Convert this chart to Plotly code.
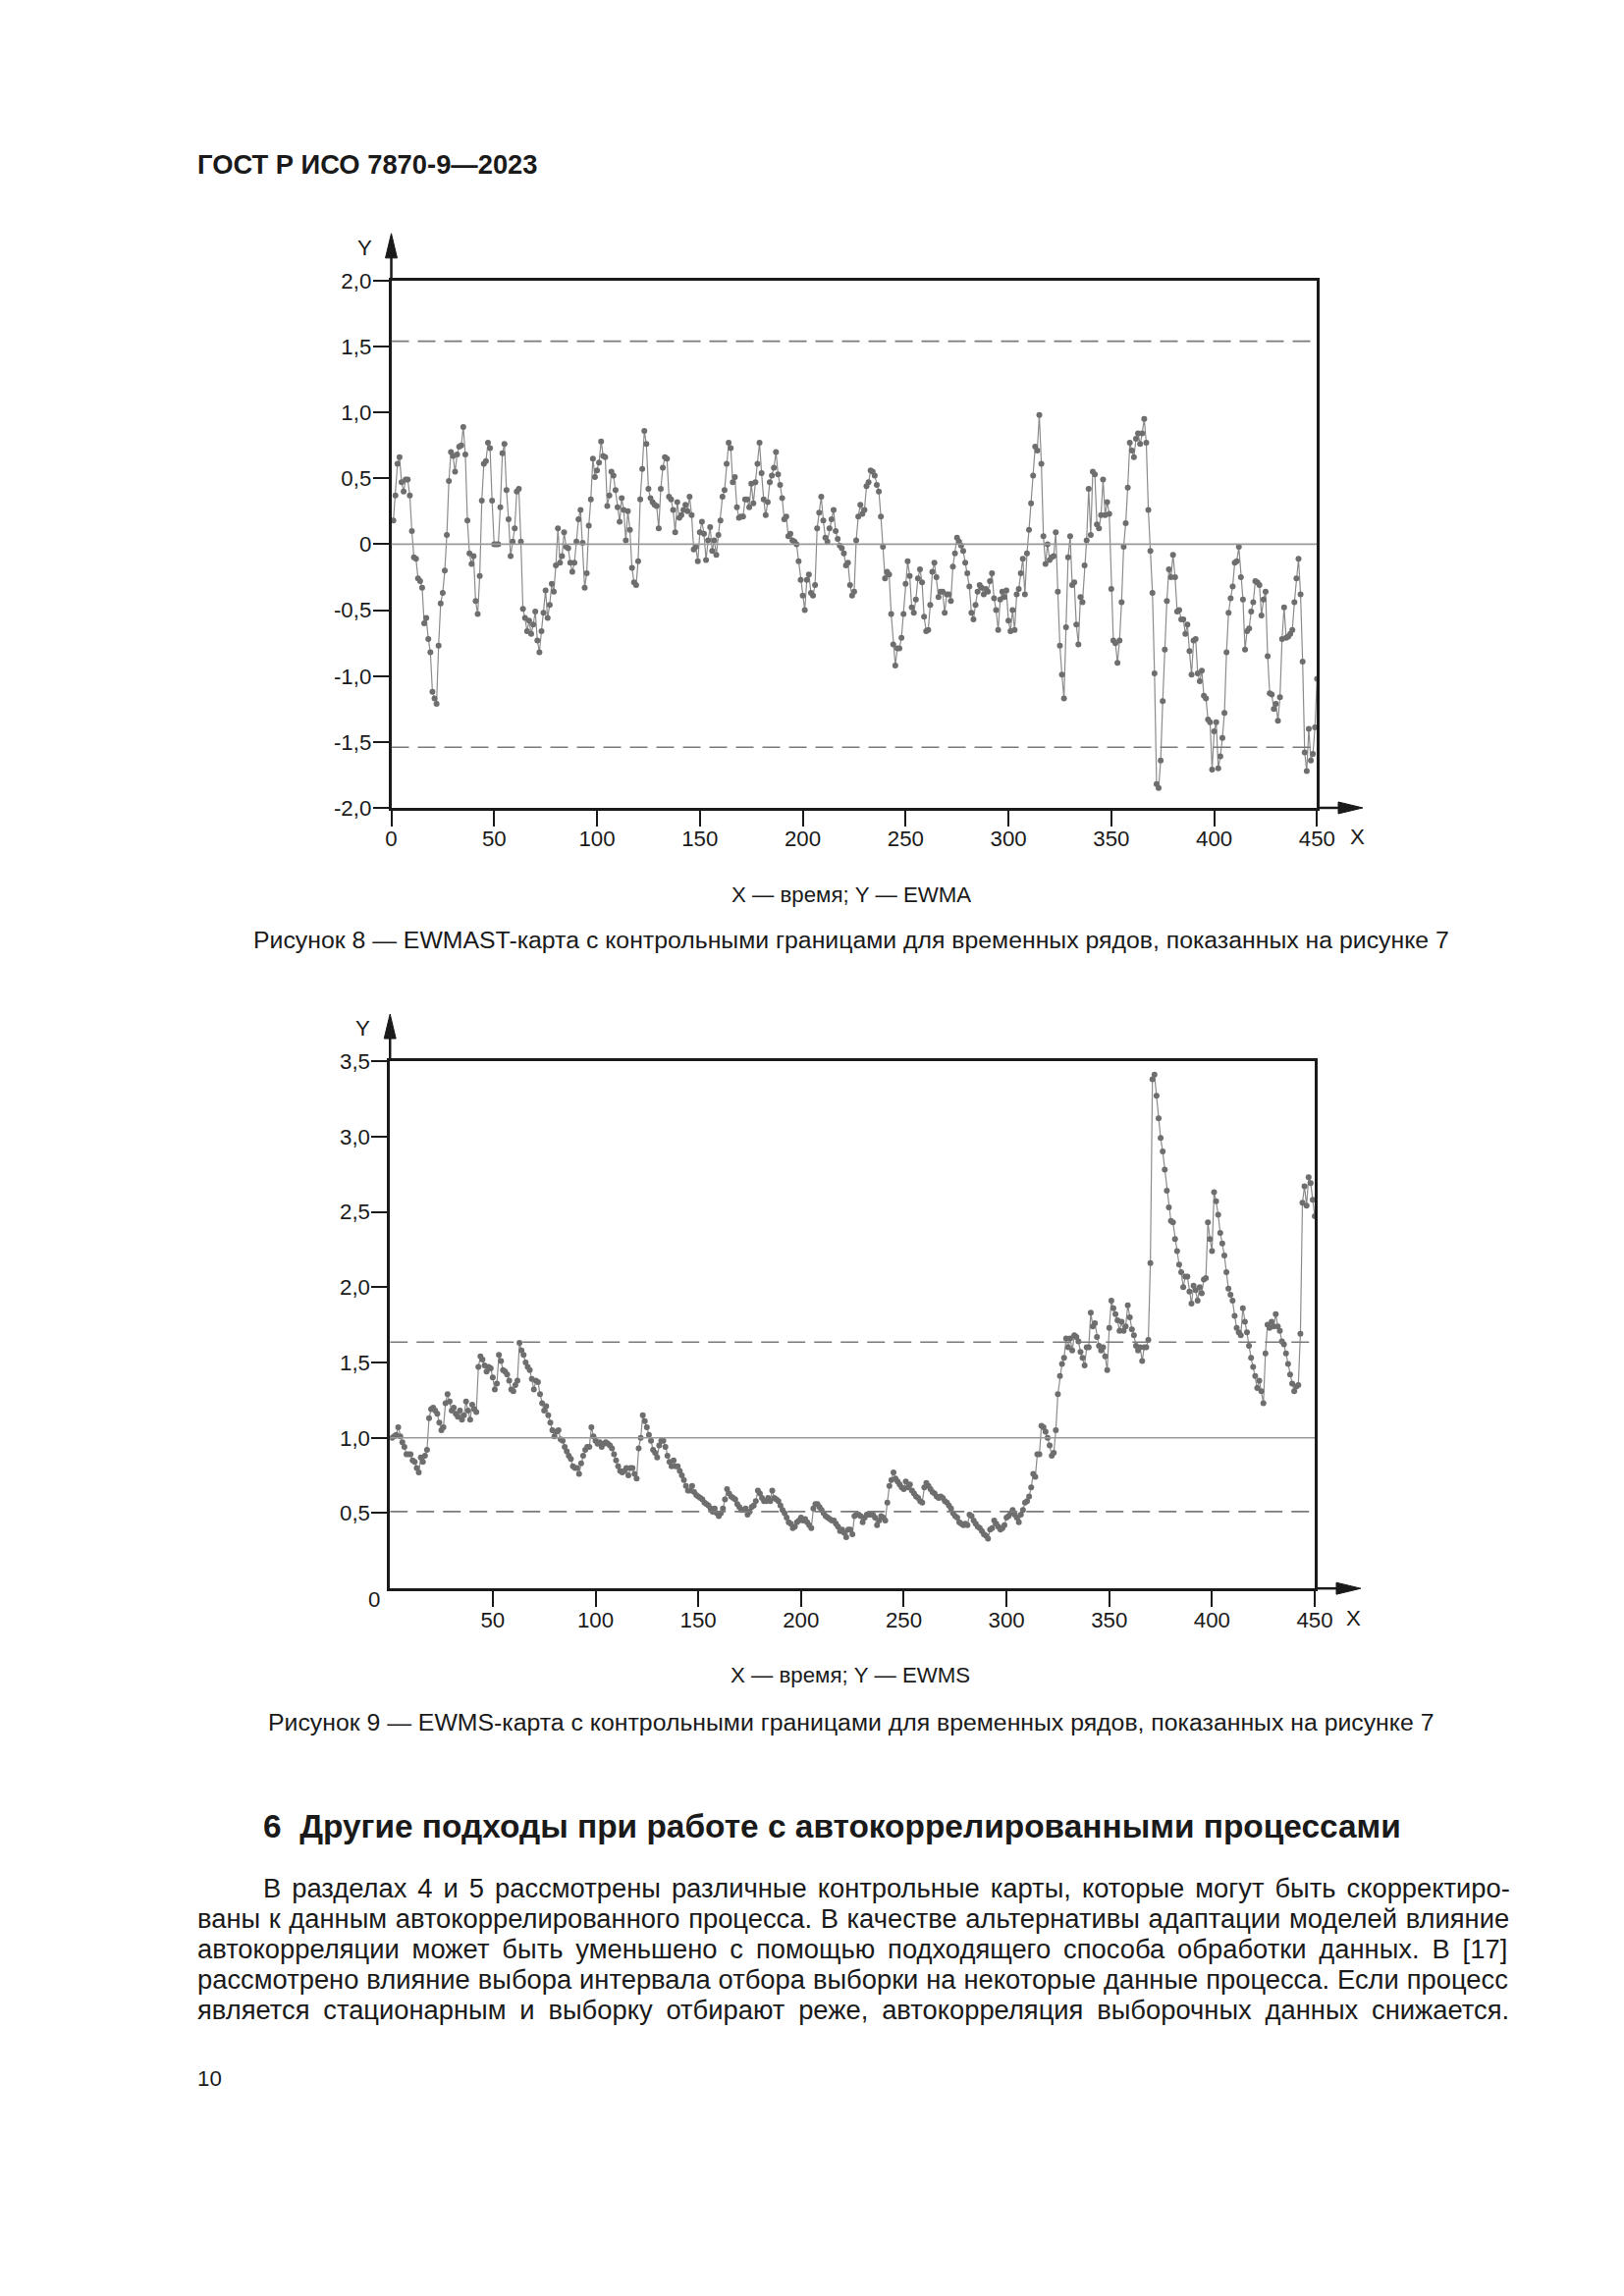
import plotly.graph_objects as go

PAGE_W, PAGE_H = 1654, 2339
BODY_MARGIN = 8  # поле <body> по умолчанию в браузере
FIG_W, FIG_H = PAGE_W - 2 * BODY_MARGIN, PAGE_H - 2 * BODY_MARGIN
# поправка на масштаб и сдвиг снимка страницы (подобрано по прошлым снимкам)
SNAP_SX, SNAP_SY = 0.987, 0.989
SNAP_DX, SNAP_DY = 5.0, 11.3
FONT = "Liberation Sans, Arial, sans-serif"
INK = "#1a1a1a"

HEADER = "ГОСТ Р ИСО 7870-9—2023"

# --- Рисунок 8: EWMA ---
EWMA = [
    0.18, 0.37, 0.61, 0.66, 0.47, 0.40, 0.49, 0.49, 0.37, 0.10,
    -0.10, -0.11, -0.26, -0.28, -0.33, -0.60, -0.56, -0.72, -0.82, -1.12,
    -1.17, -1.21, -0.77, -0.45, -0.37, -0.20, 0.07, 0.48, 0.70, 0.67,
    0.55, 0.68, 0.74, 0.75, 0.89, 0.68, 0.18, -0.07, -0.15, -0.09,
    -0.43, -0.53, -0.24, 0.33, 0.61, 0.63, 0.77, 0.73, 0.33, 0.00,
    0.00, 0.00, 0.28, 0.69, 0.76, 0.41, 0.19, -0.09, 0.02, 0.12,
    0.40, 0.42, 0.02, -0.49, -0.56, -0.66, -0.58, -0.68, -0.61, -0.51,
    -0.73, -0.82, -0.66, -0.52, -0.35, -0.56, -0.46, -0.30, -0.36, -0.16,
    0.12, -0.14, -0.09, 0.09, -0.02, -0.03, -0.14, -0.21, -0.14, 0.02,
    0.19, 0.26, 0.01, -0.33, -0.22, 0.14, 0.34, 0.65, 0.51, 0.56,
    0.62, 0.78, 0.67, 0.66, 0.29, 0.37, 0.55, 0.52, 0.41, 0.28,
    0.17, 0.35, 0.26, 0.03, 0.25, 0.11, -0.18, -0.29, -0.31, -0.13,
    0.34, 0.57, 0.86, 0.76, 0.42, 0.35, 0.32, 0.30, 0.29, 0.12,
    0.42, 0.58, 0.66, 0.65, 0.36, 0.34, 0.26, 0.09, 0.32, 0.20,
    0.22, 0.26, 0.30, 0.25, 0.36, 0.22, -0.04, -0.02, -0.13, 0.09,
    0.17, 0.08, -0.12, 0.03, 0.13, -0.05, 0.03, -0.08, 0.07, 0.18,
    0.36, 0.41, 0.61, 0.77, 0.73, 0.47, 0.51, 0.28, 0.20, 0.21,
    0.21, 0.34, 0.34, 0.28, 0.46, 0.31, 0.47, 0.61, 0.77, 0.54,
    0.34, 0.22, 0.32, 0.47, 0.52, 0.58, 0.70, 0.53, 0.45, 0.35,
    0.19, 0.21, 0.06, 0.08, 0.03, 0.02, 0.00, -0.13, -0.27, -0.39,
    -0.50, -0.27, -0.23, -0.37, -0.39, -0.31, 0.12, 0.24, 0.36, 0.18,
    0.05, 0.02, 0.12, 0.19, 0.26, 0.10, 0.04, -0.01, -0.03, -0.07,
    -0.16, -0.14, -0.31, -0.39, -0.36, 0.03, 0.21, 0.30, 0.23, 0.26,
    0.44, 0.47, 0.56, 0.55, 0.52, 0.45, 0.40, 0.21, -0.02, -0.26,
    -0.21, -0.23, -0.53, -0.76, -0.92, -0.79, -0.79, -0.71, -0.53, -0.30,
    -0.13, -0.24, -0.48, -0.52, -0.42, -0.26, -0.19, -0.29, -0.55, -0.66,
    -0.65, -0.46, -0.21, -0.14, -0.25, -0.40, -0.36, -0.36, -0.52, -0.38,
    -0.38, -0.43, -0.17, -0.07, 0.05, 0.02, -0.01, -0.05, -0.14, -0.22,
    -0.32, -0.52, -0.57, -0.46, -0.36, -0.31, -0.33, -0.38, -0.34, -0.36,
    -0.28, -0.22, -0.41, -0.50, -0.65, -0.42, -0.36, -0.40, -0.35, -0.58,
    -0.66, -0.50, -0.65, -0.38, -0.34, -0.22, -0.11, -0.38, -0.07, 0.11,
    0.31, 0.52, 0.74, 0.71, 0.98, 0.61, 0.06, -0.15, 0.00, -0.12,
    -0.10, -0.09, 0.09, -0.36, -0.77, -0.99, -1.17, -0.63, -0.10, 0.06,
    -0.31, -0.29, -0.61, -0.76, -0.40, -0.44, -0.16, 0.03, 0.42, 0.07,
    0.55, 0.53, 0.15, 0.12, 0.22, 0.49, 0.22, 0.32, 0.23, -0.34,
    -0.73, -0.75, -0.90, -0.73, -0.44, -0.02, 0.16, 0.43, 0.77, 0.71,
    0.66, 0.80, 0.84, 0.76, 0.84, 0.95, 0.77, 0.26, -0.05, -0.37,
    -0.98, -1.82, -1.85, -1.64, -1.19, -0.80, -0.43, -0.19, -0.25, -0.08,
    -0.25, -0.51, -0.50, -0.57, -0.57, -0.68, -0.61, -0.81, -0.99, -0.73,
    -0.72, -0.98, -1.04, -0.96, -1.15, -1.17, -1.33, -1.35, -1.71, -1.42,
    -1.35, -1.70, -1.61, -1.47, -1.28, -0.82, -0.52, -0.41, -0.32, -0.14,
    -0.13, -0.02, -0.25, -0.42, -0.80, -0.66, -0.64, -0.51, -0.44, -0.28,
    -0.29, -0.31, -0.54, -0.42, -0.36, -0.85, -1.13, -1.14, -1.25, -1.21,
    -1.34, -1.16, -0.72, -0.48, -0.71, -0.70, -0.68, -0.65, -0.44, -0.26,
    -0.11, -0.38, -0.89, -1.58, -1.72, -1.40, -1.64, -1.59, -1.39, -1.02,
]
EWMA_CENTER = 0.0
EWMA_LIMITS = [-1.54, 1.54]
EWMA_YTICKS = [-2.0, -1.5, -1.0, -0.5, 0.0, 0.5, 1.0, 1.5, 2.0]
EWMA_YTEXT = ["-2,0", "-1,5", "-1,0", "-0,5", "0", "0,5", "1,0", "1,5", "2,0"]
EWMA_XTICKS = [0, 50, 100, 150, 200, 250, 300, 350, 400, 450]

# --- Рисунок 9: EWMS ---
EWMS = [
    1.00, 1.01, 1.02, 1.07, 1.01, 0.97, 0.94, 0.89, 0.89, 0.89,
    0.85, 0.84, 0.80, 0.77, 0.87, 0.84, 0.88, 0.92, 1.13, 1.19,
    1.20, 1.18, 1.16, 1.10, 1.05, 1.07, 1.23, 1.29, 1.24, 1.18,
    1.20, 1.16, 1.14, 1.18, 1.12, 1.15, 1.24, 1.18, 1.12, 1.22,
    1.19, 1.17, 1.47, 1.54, 1.52, 1.48, 1.44, 1.47, 1.46, 1.40,
    1.32, 1.36, 1.55, 1.51, 1.45, 1.44, 1.42, 1.38, 1.32, 1.31,
    1.35, 1.38, 1.63, 1.58, 1.55, 1.50, 1.47, 1.45, 1.39, 1.32,
    1.38, 1.37, 1.29, 1.23, 1.18, 1.21, 1.15, 1.10, 1.05, 1.01,
    1.04, 1.05, 0.99, 0.98, 0.94, 0.91, 0.88, 0.86, 0.81, 0.80,
    0.80, 0.76, 0.83, 0.88, 0.92, 0.94, 0.94, 1.07, 1.01, 0.98,
    0.96, 0.97, 0.94, 0.96, 0.97, 0.96, 0.95, 0.93, 0.89, 0.85,
    0.81, 0.78, 0.77, 0.78, 0.80, 0.75, 0.80, 0.80, 0.76, 0.73,
    0.93, 1.00, 1.15, 1.11, 1.07, 1.02, 0.98, 0.92, 0.90, 0.87,
    0.95, 0.98, 0.98, 0.94, 0.88, 0.84, 0.81, 0.85, 0.81, 0.81,
    0.78, 0.75, 0.72, 0.68, 0.65, 0.65, 0.68, 0.64, 0.62, 0.61,
    0.60, 0.59, 0.57, 0.56, 0.55, 0.53, 0.51, 0.53, 0.50, 0.48,
    0.50, 0.53, 0.59, 0.66, 0.63, 0.61, 0.60, 0.59, 0.56, 0.54,
    0.52, 0.52, 0.53, 0.49, 0.51, 0.54, 0.55, 0.58, 0.65, 0.63,
    0.60, 0.58, 0.58, 0.60, 0.58, 0.65, 0.60, 0.59, 0.58, 0.55,
    0.52, 0.50, 0.47, 0.44, 0.43, 0.40, 0.41, 0.44, 0.45, 0.47,
    0.45, 0.46, 0.44, 0.42, 0.40, 0.53, 0.56, 0.56, 0.54, 0.52,
    0.50, 0.48, 0.47, 0.46, 0.45, 0.45, 0.43, 0.41, 0.38, 0.39,
    0.37, 0.34, 0.39, 0.39, 0.36, 0.48, 0.49, 0.49, 0.48, 0.44,
    0.47, 0.49, 0.49, 0.49, 0.49, 0.47, 0.42, 0.45, 0.48, 0.47,
    0.45, 0.57, 0.68, 0.72, 0.77, 0.73, 0.71, 0.69, 0.67, 0.66,
    0.71, 0.67, 0.69, 0.65, 0.63, 0.61, 0.60, 0.58, 0.57, 0.67,
    0.70, 0.68, 0.66, 0.64, 0.63, 0.61, 0.60, 0.61, 0.60, 0.58,
    0.57, 0.55, 0.53, 0.50, 0.48, 0.47, 0.44, 0.43, 0.42, 0.43,
    0.42, 0.49, 0.48, 0.45, 0.43, 0.41, 0.40, 0.38, 0.36, 0.35,
    0.33, 0.39, 0.40, 0.45, 0.43, 0.41, 0.39, 0.40, 0.42, 0.47,
    0.48, 0.50, 0.52, 0.49, 0.47, 0.44, 0.49, 0.52, 0.57, 0.58,
    0.61, 0.67, 0.76, 0.74, 0.89, 0.89, 1.08, 1.07, 1.04, 1.00,
    0.95, 0.88, 0.90, 1.05, 1.29, 1.41, 1.49, 1.53, 1.66, 1.60,
    1.66, 1.58, 1.68, 1.67, 1.64, 1.57, 1.53, 1.48, 1.60, 1.60,
    1.83, 1.74, 1.76, 1.67, 1.61, 1.58, 1.60, 1.54, 1.45, 1.73,
    1.91, 1.86, 1.82, 1.78, 1.71, 1.77, 1.71, 1.74, 1.88, 1.80,
    1.72, 1.68, 1.61, 1.58, 1.60, 1.51, 1.60, 1.60, 1.65, 2.16,
    3.38, 3.41, 3.27, 3.12, 2.99, 2.90, 2.78, 2.64, 2.53, 2.44,
    2.43, 2.32, 2.24, 2.15, 2.10, 2.00, 2.07, 2.07, 1.97, 1.89,
    2.01, 1.98, 1.91, 2.00, 1.96, 2.05, 2.06, 2.43, 2.32, 2.24,
    2.63, 2.57, 2.48, 2.36, 2.29, 2.21, 2.10, 1.99, 1.95, 1.91,
    1.81, 1.73, 1.70, 1.68, 1.86, 1.77, 1.70, 1.61, 1.53, 1.47,
    1.41, 1.33, 1.38, 1.31, 1.23, 1.56, 1.75, 1.73, 1.77, 1.74,
    1.82, 1.74, 1.71, 1.64, 1.62, 1.56, 1.49, 1.42, 1.36, 1.31,
    1.34, 1.35, 1.69, 2.56, 2.67, 2.54, 2.73, 2.69, 2.58, 2.47,
]
EWMS_CENTER = 1.0
EWMS_LIMITS = [0.51, 1.635]
EWMS_YTICKS = [0.5, 1.0, 1.5, 2.0, 2.5, 3.0, 3.5]
EWMS_YTEXT = ["0,5", "1,0", "1,5", "2,0", "2,5", "3,0", "3,5"]
EWMS_XTICKS = [50, 100, 150, 200, 250, 300, 350, 400, 450]
EWMS_ORIGIN = "0"

AXES_NOTE_1 = "X — время; Y — EWMA"
CAPTION_1 = "Рисунок 8 — EWMAST-карта с контрольными границами для временных рядов, показанных на рисунке 7"
AXES_NOTE_2 = "X — время; Y — EWMS"
CAPTION_2 = "Рисунок 9 — EWMS-карта с контрольными границами для временных рядов, показанных на рисунке 7"
HEADING = "6\u00a0\u00a0Другие подходы при работе с автокоррелированными процессами"
PARAGRAPH = [
    "В разделах 4 и 5 рассмотрены различные контрольные карты, которые могут быть скорректиро-",
    "ваны к данным автокоррелированного процесса. В качестве альтернативы адаптации моделей влияние",
    "автокорреляции может быть уменьшено с помощью подходящего способа обработки данных. В [17]",
    "рассмотрено влияние выбора интервала отбора выборки на некоторые данные процесса. Если процесс",
    "является стационарным и выборку отбирают реже, автокорреляция выборочных данных снижается.",
]
PAGE_NO = "10"


def px(x):
    return ((x - SNAP_DX) / SNAP_SX - BODY_MARGIN) / FIG_W


def py(y):
    return 1 - ((y - SNAP_DY) / SNAP_SY - BODY_MARGIN) / FIG_H


def sz(v):
    return v / SNAP_SX


def text(fig, s, x, y, size, anchor="center", bold=False):
    fig.add_annotation(
        text=f"<b>{s}</b>" if bold else s,
        x=px(x), y=py(y), xref="paper", yref="paper",
        xanchor=anchor, yanchor="middle", showarrow=False,
        font=dict(family=FONT, size=sz(size), color=INK),
    )


def arrows(fig, left, right, top, bottom, tip_x, tip_y):
    # продолжения осей за рамку и наконечники стрелок
    fig.add_shape(type="line", xref="paper", yref="paper",
                  x0=px(left), x1=px(left), y0=py(top), y1=py(tip_y + 20),
                  line=dict(color=INK, width=2.5))
    fig.add_shape(type="line", xref="paper", yref="paper",
                  x0=px(right), x1=px(tip_x - 20), y0=py(bottom), y1=py(bottom),
                  line=dict(color=INK, width=2.5))
    up = (f"M {px(left)} {py(tip_y)} L {px(left - 6)} {py(tip_y + 25)} "
          f"L {px(left + 6)} {py(tip_y + 25)} Z")
    rt = (f"M {px(tip_x)} {py(bottom)} L {px(tip_x - 25)} {py(bottom - 6)} "
          f"L {px(tip_x - 25)} {py(bottom + 6)} Z")
    for path in (up, rt):
        fig.add_shape(type="path", path=path, xref="paper", yref="paper",
                      fillcolor=INK, line=dict(color=INK, width=1))


def limit_lines(fig, xref, yref, center, limits):
    fig.add_shape(type="line", xref=xref, yref=yref, x0=0, x1=450,
                  y0=center, y1=center, line=dict(color="#9a9a9a", width=1.6))
    for v in limits:
        fig.add_shape(type="line", xref=xref, yref=yref, x0=0, x1=450,
                      y0=v, y1=v, line=dict(color="#7a7a7a", width=1.6, dash="18px,9px"))


axis_style = dict(
    showline=True, linecolor=INK, linewidth=2.5, mirror=True,
    ticks="outside", ticklen=16, tickwidth=2.2, tickcolor=INK,
    showgrid=False, zeroline=False,
    tickfont=dict(family=FONT, size=sz(22), color=INK),
)

# геометрия страницы в пикселях
C1 = dict(left=398.3, right=1343.3, top=285, bottom=822)
C2 = dict(left=397, right=1341, top=1080, bottom=1617)

t1 = list(range(1, len(EWMA) + 1))
t2 = list(range(1, len(EWMS) + 1))

fig = go.Figure()
series_style = dict(mode="lines+markers", line=dict(color="#8c8c8c", width=1.2),
                    marker=dict(color="#6e6e6e", size=6), showlegend=False, hoverinfo="skip")
fig.add_trace(go.Scatter(x=t1, y=EWMA, xaxis="x", yaxis="y", **series_style))
fig.add_trace(go.Scatter(x=t2, y=EWMS, xaxis="x2", yaxis="y2", **series_style))

fig.update_layout(
    width=FIG_W, height=FIG_H,
    margin=dict(l=0, r=0, t=0, b=0),
    paper_bgcolor="white", plot_bgcolor="white",
    xaxis=dict(domain=[px(C1["left"]), px(C1["right"])], range=[0, 450],
               tickvals=EWMA_XTICKS, anchor="y", ticklabelstandoff=-6, **axis_style),
    yaxis=dict(domain=[py(C1["bottom"]), py(C1["top"])], range=[-2, 2],
               tickvals=EWMA_YTICKS, ticktext=EWMA_YTEXT, anchor="x",
               ticklabelstandoff=-3, **axis_style),
    xaxis2=dict(domain=[px(C2["left"]), px(C2["right"])], range=[0, 450],
                tickvals=EWMS_XTICKS, anchor="y2", ticklabelstandoff=-6, **axis_style),
    yaxis2=dict(domain=[py(C2["bottom"]), py(C2["top"])], range=[0, 3.5],
                tickvals=EWMS_YTICKS, ticktext=EWMS_YTEXT, anchor="x2",
                ticklabelstandoff=-3, **axis_style),
)

limit_lines(fig, "x", "y", EWMA_CENTER, EWMA_LIMITS)
limit_lines(fig, "x2", "y2", EWMS_CENTER, EWMS_LIMITS)
arrows(fig, C1["left"], C1["right"], C1["top"], C1["bottom"], 1390, 237)
arrows(fig, C2["left"], C2["right"], C2["top"], C2["bottom"], 1388, 1032)

text(fig, HEADER, 198, 167, 27, anchor="left", bold=True)
text(fig, "Y", 371, 252, 22)
text(fig, "X", 1385, 852, 22)
text(fig, AXES_NOTE_1, 868, 910, 22)
text(fig, CAPTION_1, 868, 956, 24.5)

text(fig, "Y", 369, 1046, 22)
text(fig, "X", 1381, 1647, 22)
text(fig, EWMS_ORIGIN, 381, 1628, 22)
text(fig, AXES_NOTE_2, 867, 1705, 22)
text(fig, CAPTION_2, 867, 1753, 24.5)

text(fig, HEADING, 265, 1859, 33, anchor="left", bold=True)

# выключка по ширине: добавочный межсловный интервал для каждой строки, px
word_gaps = [3.4, 1.0, 5.3, 0.3, 6.2]
for i, line in enumerate(PARAGRAPH):
    justified = f'<span style="word-spacing:{word_gaps[i]}px">{line}</span>'
    text(fig, justified, 265 if i == 0 else 198, 1922 + i * 31, 27, anchor="left")
text(fig, PAGE_NO, 198, 2116, 22, anchor="left")

fig.write_html("out.html", config={"displayModeBar": False})
